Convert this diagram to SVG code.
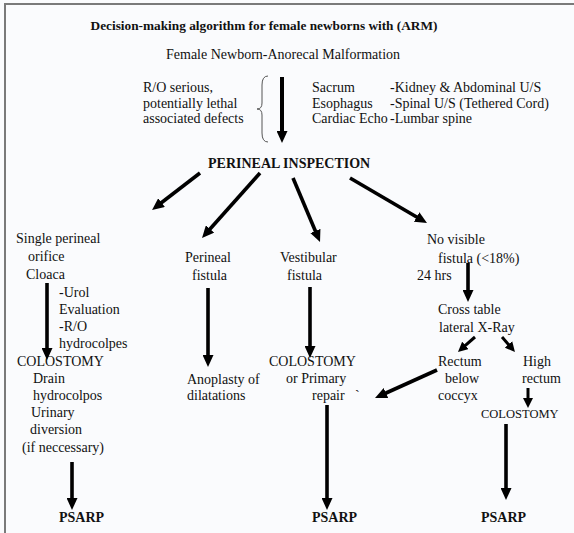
<svg xmlns="http://www.w3.org/2000/svg" width="574" height="533" viewBox="0 0 574 533">
<style>
text{font-family:"Liberation Serif","Times New Roman",serif;font-size:14px;fill:#111}
.b{font-weight:bold}
.sm{font-size:12.5px}
.ar{stroke:#000;stroke-width:3.6;fill:none;marker-end:url(#ah)}
.ar2{stroke:#000;stroke-width:3;fill:none;marker-end:url(#ahs)}
</style>
<defs>
<marker id="ah" viewBox="0 0 12 11" refX="6" refY="5.5" markerWidth="12" markerHeight="11" markerUnits="userSpaceOnUse" orient="auto"><path d="M0,0 L12,5.5 L0,11 z" fill="#000"/></marker>
<marker id="ahs" viewBox="0 0 10 10" refX="5" refY="5" markerWidth="10" markerHeight="10" markerUnits="userSpaceOnUse" orient="auto"><path d="M0,0 L10,5 L0,10 z" fill="#000"/></marker>
</defs>
<rect x="0" y="0" width="574" height="533" fill="#fafbfd"/>
<path d="M5,533 L5,4 L574,4" fill="none" stroke="#7a7a7a" stroke-width="2"/>
<g id="title"><text class="b" x="264" y="30" text-anchor="middle" style="font-size:13.3px">Decision-making algorithm for female newborns with (ARM)</text></g>
<g id="start"><text x="166" y="59">Female Newborn-Anorecal Malformation</text></g>
<g id="defects"><text x="143" y="92">R/O serious,</text><text x="143" y="108">potentially lethal</text><text x="143" y="123">associated defects</text>
<path d="M268,76 Q262,76 262,85 L262,103 Q262,109 257,109 Q262,109 262,115 L262,133 Q262,142 268,142" fill="none" stroke="#555" stroke-width="1"/></g>
<g id="tests"><text x="312" y="92">Sacrum</text><text x="312" y="108">Esophagus</text><text x="312" y="123">Cardiac Echo</text>
<text x="390" y="92">-Kidney &amp; Abdominal U/S</text><text x="390" y="108">-Spinal U/S (Tethered Cord)</text><text x="390" y="123">-Lumbar spine</text></g>
<g id="perineal-inspection"><text class="b" x="208" y="168">PERINEAL INSPECTION</text></g>
<g id="cloaca"><text x="16" y="243">Single perineal</text><text x="28" y="261">orifice</text><text x="26" y="279">Cloaca</text>
<text x="59" y="297">-Urol</text><text x="59" y="314">Evaluation</text><text x="59" y="331">-R/O</text><text x="59" y="348">hydrocolpes</text></g>
<g id="colostomy-left"><text x="17" y="366">COLOSTOMY</text><text x="33" y="383">Drain</text><text x="33" y="400">hydrocolpos</text><text x="31" y="417">Urinary</text><text x="30" y="434">diversion</text><text x="22" y="452">(if neccessary)</text></g>
<g id="perineal-fistula"><text x="185" y="262">Perineal</text><text x="192" y="280">fistula</text></g>
<g id="anoplasty"><text x="187" y="384">Anoplasty of</text><text x="187" y="400">dilatations</text></g>
<g id="vestibular"><text x="280" y="262">Vestibular</text><text x="287" y="280">fistula</text></g>
<g id="colostomy-primary"><text x="269" y="366">COLOSTOMY</text><text x="286" y="383">or Primary</text><text x="312" y="400">repair</text><text x="355" y="400">`</text></g>
<g id="no-fistula"><text x="427" y="244">No visible</text><text x="438" y="263">fistula (&lt;18%)</text><text x="417" y="280">24 hrs</text></g>
<g id="xray"><text x="438" y="314">Cross table</text><text x="439" y="332">lateral X-Ray</text></g>
<g id="rectum-below"><text x="438" y="366">Rectum</text><text x="445" y="383">below</text><text x="438" y="400">coccyx</text></g>
<g id="high-rectum"><text x="523" y="366">High</text><text x="522" y="383">rectum</text></g>
<g id="colostomy-right"><text class="sm" x="481" y="418">COLOSTOMY</text></g>
<g id="psarp-1"><text class="b" x="59" y="522">PSARP</text></g>
<g id="psarp-2"><text class="b" x="312" y="522">PSARP</text></g>
<g id="psarp-3"><text class="b" x="481" y="522">PSARP</text></g>
<g id="connectors">
<line class="ar" x1="282" y1="77" x2="282" y2="137" style="stroke-width:4"/>
<line class="ar" x1="200" y1="173" x2="156.8" y2="206.3"/>
<line class="ar" x1="260" y1="173" x2="206" y2="233.5"/>
<line class="ar" x1="293" y1="178" x2="317.7" y2="236.5"/>
<line class="ar" x1="350" y1="178" x2="421.8" y2="220"/>
<line class="ar" x1="47" y1="283" x2="47" y2="354"/>
<line class="ar" x1="208" y1="288" x2="208" y2="361"/>
<line class="ar" x1="310" y1="287" x2="310" y2="352"/>
<line class="ar" x1="72" y1="462" x2="72" y2="504"/>
<line class="ar" x1="327" y1="405" x2="327" y2="504"/>
<line class="ar" x1="506" y1="424" x2="506" y2="494"/>
<line class="ar" x1="468" y1="263" x2="468" y2="296"/>
<line class="ar2" x1="475" y1="337" x2="461.7" y2="348.7"/>
<line class="ar2" x1="502" y1="337" x2="511.7" y2="348.2"/>
<line class="ar2" x1="528" y1="388" x2="528" y2="403"/>
<line class="ar" x1="437" y1="370" x2="380.5" y2="395.5"/>
</g>
</svg>
